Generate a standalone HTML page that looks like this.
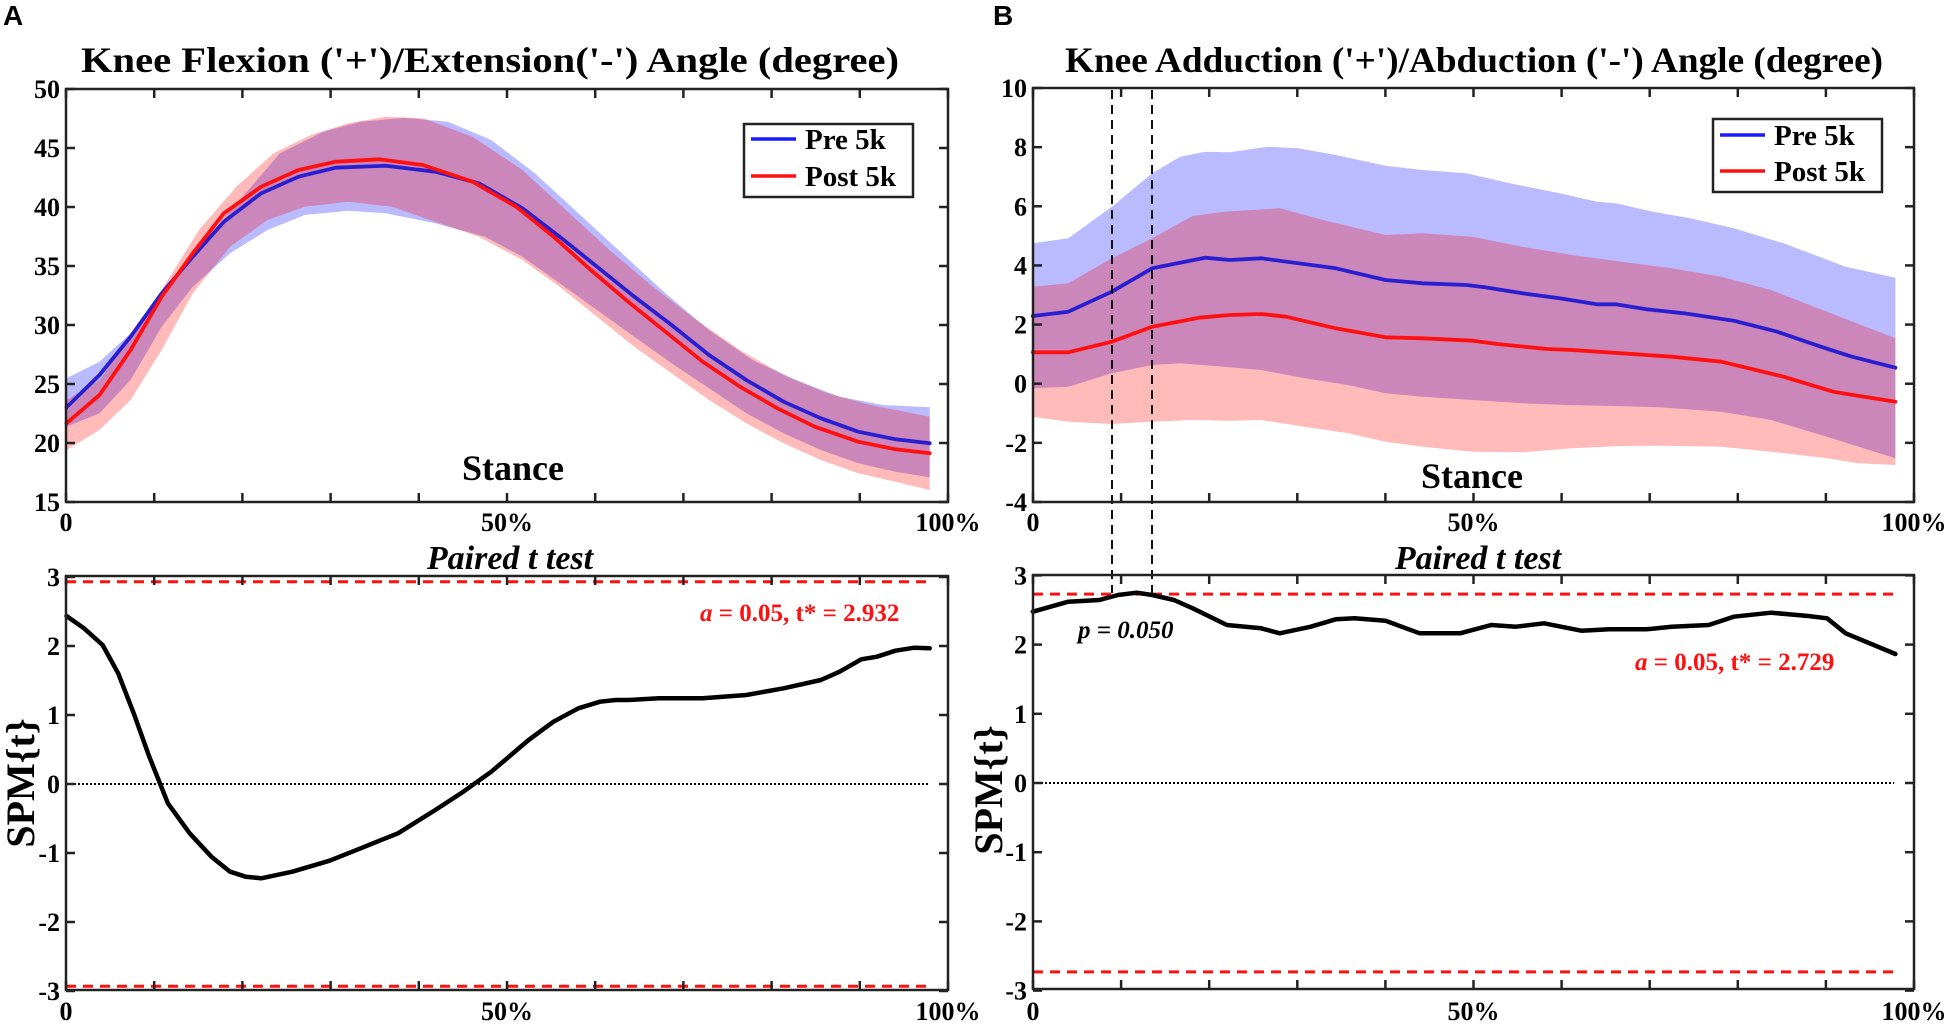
<!DOCTYPE html>
<html><head><meta charset="utf-8"><style>
html,body{margin:0;padding:0;background:#fff;}
svg{display:block;font-family:"Liberation Serif",serif;font-weight:bold;}
</style></head><body>
<svg id="s" width="1950" height="1025" viewBox="0 0 1950 1025" xmlns="http://www.w3.org/2000/svg">
<text x="3" y="25" font-family="Liberation Sans, sans-serif" font-size="28" font-weight="bold">A</text>
<text x="993" y="25" font-family="Liberation Sans, sans-serif" font-size="28" font-weight="bold">B</text>
<text x="490" y="72" font-size="36" text-anchor="middle" textLength="818" lengthAdjust="spacingAndGlyphs">Knee Flexion ('+')/Extension('-') Angle (degree)</text>
<text x="1474" y="72" font-size="36" text-anchor="middle" textLength="818" lengthAdjust="spacingAndGlyphs">Knee Adduction ('+')/Abduction ('-') Angle (degree)</text>
<g id="g"></g>
</svg>
<script>
const NS="http://www.w3.org/2000/svg",G=document.getElementById('g');
function el(t,a,txt){const e=document.createElementNS(NS,t);for(const k in a)e.setAttribute(k,a[k]);if(txt!==undefined)e.textContent=txt;G.appendChild(e);return e;}
function mapA(p){return p.map(q=>[q[0]/1.608,q[1]/3]);}
function mapB(p){return p.map(q=>[975+q[0]/1.608,q[1]/3]);}
function mapA2(p){return p.map(q=>[q[0]/1.608,520+q[1]/3]);}
function mapB2(p){return p.map(q=>[975+q[0]/1.608,520+q[1]/3]);}
function pts(p){return p.map(q=>q[0].toFixed(1)+','+q[1].toFixed(1)).join(' ');}
function band(u,l,fill){el('polygon',{points:pts(u.concat(l.slice().reverse())),fill:fill,'fill-opacity':0.27});}
function line(p,c,w){el('polyline',{points:pts(p),fill:'none',stroke:c,'stroke-width':w,'stroke-linejoin':'round','stroke-linecap':'round'});}
band(mapA([[107,1135],[160,1085],[210,1000],[270,860],[330,720],[390,590],[450,460],[520,395],[580,365],[650,353],[720,365],[790,420],[860,520],[930,640],[1000,760],[1070,880],[1140,990],[1210,1080],[1280,1140],[1350,1190],[1420,1215],[1495,1222]]),
 mapA([[107,1280],[160,1240],[210,1140],[260,980],[310,860],[370,760],[430,690],[490,645],[560,632],[620,640],[700,670],[780,710],[840,770],[900,850],[960,930],[1020,1010],[1080,1090],[1140,1165],[1200,1240],[1260,1300],[1320,1350],[1380,1390],[1440,1415],[1495,1432]]),'#0000ff');
band(mapA([[107,1200],[160,1140],[210,1010],[260,870],[320,690],[380,560],[440,460],[500,405],[560,370],[620,350],[680,355],[760,410],[840,510],[910,630],[980,750],[1050,860],[1120,960],[1190,1050],[1260,1125],[1330,1180],[1400,1215],[1495,1250]]),
 mapA([[107,1350],[160,1290],[210,1200],[260,1050],[310,880],[370,740],[430,660],[490,620],[560,605],[630,620],[700,665],[770,710],[840,780],[900,860],[960,950],[1020,1040],[1080,1120],[1140,1200],[1200,1270],[1260,1330],[1320,1380],[1380,1420],[1440,1445],[1495,1470]]),'#ff0000');
line(mapA([[107,1222],[160,1125],[210,1010],[260,880],[310,770],[360,665],[420,580],[480,530],[540,503],[620,497],[700,515],[770,550],[840,625],[900,710],[960,800],[1020,890],[1080,975],[1140,1065],[1200,1140],[1260,1205],[1320,1255],[1380,1295],[1440,1318],[1495,1330]]),'#2a1fd0',3.8);
line(mapA([[107,1270],[160,1185],[210,1050],[260,890],[310,760],[360,640],[420,560],[480,510],[540,485],[610,478],[680,495],[760,545],[830,620],[890,710],[950,810],[1010,905],[1070,995],[1130,1085],[1190,1160],[1250,1225],[1310,1280],[1380,1325],[1440,1348],[1495,1360]]),'#ff1010',3.8);
band(mapB([[93,730],[150,715],[220,620],[285,520],[330,470],[370,455],[410,457],[470,440],[520,445],[580,465],[660,497],[720,510],[790,520],[860,550],[940,580],[1000,605],[1030,610],[1090,635],[1150,655],[1220,685],[1300,730],[1400,800],[1480,833]]),
 mapB([[93,1165],[150,1160],[220,1120],[285,1095],[330,1090],[400,1100],[460,1110],[530,1135],[600,1155],[660,1180],[720,1190],[800,1200],[880,1210],[950,1215],[1030,1218],[1100,1222],[1200,1235],[1280,1260],[1370,1310],[1480,1375]]),'#0000ff');
band(mapB([[93,860],[150,850],[220,775],[285,715],[350,648],[400,635],[490,625],[560,660],[660,705],[720,700],[800,710],[880,740],[960,765],[1040,785],[1120,805],[1200,830],[1280,870],[1370,935],[1480,1015]]),
 mapB([[93,1250],[150,1265],[220,1272],[285,1265],[350,1260],[410,1262],[460,1260],[530,1280],[600,1300],[660,1325],[720,1340],[800,1355],[880,1357],[960,1345],[1040,1338],[1110,1337],[1200,1340],[1280,1355],[1370,1375],[1420,1390],[1480,1395]]),'#ff0000');
line(mapB([[93,948],[150,935],[220,875],[285,805],[370,773],[410,780],[460,775],[580,805],[660,840],[720,850],[790,855],[820,862],[880,880],[940,895],[1000,913],[1030,913],[1080,928],[1140,940],[1220,962],[1290,995],[1360,1040],[1410,1070],[1480,1103]]),'#2a1fd0',3.8);
line(mapB([[93,1057],[150,1057],[220,1025],[285,980],[360,953],[410,945],[460,942],[500,950],[580,985],[660,1012],[720,1015],[800,1022],[840,1032],[920,1047],[960,1050],[1040,1060],[1120,1070],[1200,1085],[1300,1130],[1380,1175],[1480,1205]]),'#ff1010',3.8);
el('line',{x1:1112,y1:90,x2:1112,y2:593,stroke:'#111','stroke-width':2,'stroke-dasharray':'9,6'});
el('line',{x1:1152,y1:90,x2:1152,y2:593,stroke:'#111','stroke-width':2,'stroke-dasharray':'9,6'});
[[66,948,784,69,2.932],[1033,1914,783,69.2,2.729]].forEach(b=>{
 const [l,r,z,k,t]=b;
 el('line',{x1:l,y1:z,x2:r-20,y2:z,stroke:'#000','stroke-width':2,'stroke-dasharray':'2,2'});
 el('line',{x1:l,y1:z-k*t,x2:r-20,y2:z-k*t,stroke:'#ff1010','stroke-width':3,'stroke-dasharray':'10,7'});
 el('line',{x1:l,y1:z+k*t,x2:r-20,y2:z+k*t,stroke:'#ff1010','stroke-width':3,'stroke-dasharray':'10,7'});
});
line(mapA2([[107,288],[135,325],[165,375],[190,460],[215,580],[240,710],[270,850],[305,940],[340,1010],[370,1055],[395,1070],[420,1075],[470,1055],[530,1022],[580,985],[640,940],[700,870],[745,815],[790,755],[850,660],[890,605],[930,565],[965,545],[990,540],[1010,540],[1060,535],[1130,535],[1200,525],[1260,505],[1320,480],[1350,455],[1385,418],[1410,410],[1440,392],[1470,383],[1495,385]]),'#000',4.5);
line(mapB2([[93,275],[150,245],[200,240],[230,225],[260,218],[285,225],[320,240],[350,265],[405,315],[460,325],[490,340],[540,320],[580,298],[610,295],[660,302],[715,340],[780,340],[830,315],[870,320],[915,310],[975,332],[1020,328],[1080,328],[1120,320],[1180,315],[1220,290],[1280,278],[1340,288],[1370,295],[1400,340],[1480,402]]),'#000',4.5);
function axes(l,r,t,b,yt,xlbY){
 el('rect',{x:l,y:t,width:r-l,height:b-t,fill:'none',stroke:'#222','stroke-width':2.5});
 for(let i=0;i<=10;i++){const x=l+(r-l)*i/10;el('line',{x1:x,y1:b,x2:x,y2:b-9,stroke:'#222','stroke-width':2.5});el('line',{x1:x,y1:t,x2:x,y2:t+9,stroke:'#222','stroke-width':2.5});}
 yt.forEach(q=>{el('line',{x1:l,y1:q[1],x2:l+9,y2:q[1],stroke:'#222','stroke-width':2.5});el('line',{x1:r,y1:q[1],x2:r-9,y2:q[1],stroke:'#222','stroke-width':2.5});
  el('text',{x:l-6,y:q[1]+9,'font-size':26,'text-anchor':'end'},q[0]);});
 el('text',{x:l,y:xlbY,'font-size':26,'text-anchor':'middle'},'0');
 el('text',{x:(l+r)/2,y:xlbY,'font-size':26,'text-anchor':'middle'},'50%');
 el('text',{x:r,y:xlbY,'font-size':26,'text-anchor':'middle'},'100%');
}
let ya=[];for(let v=15;v<=50;v+=5)ya.push([v,502-(v-15)*413/35]);
axes(66,948,89,502,ya,531);
let yb=[];for(let v=-4;v<=10;v+=2)yb.push([v,502-(v+4)*414/14]);
axes(1033,1914,88,502,yb,531);
let yc=[];for(let v=-3;v<=3;v++)yc.push([v,784-69*v]);
axes(66,948,576,990,yc,1020);
let yd=[];for(let v=-3;v<=3;v++)yd.push([v,783-69.2*v]);
axes(1033,1914,575,989,yd,1020);
function legend(x,y,w,h,lx1,lx2,y1,y2,tx){
 el('rect',{x:x,y:y,width:w,height:h,fill:'#fff',stroke:'#222','stroke-width':2.5});
 el('line',{x1:lx1,y1:y1,x2:lx2,y2:y1,stroke:'#1a1aff','stroke-width':3.5});
 el('line',{x1:lx1,y1:y2,x2:lx2,y2:y2,stroke:'#ff1010','stroke-width':3.5});
 el('text',{x:tx,y:y1+10,'font-size':29},'Pre 5k');
 el('text',{x:tx,y:y2+10,'font-size':29},'Post 5k');
}
legend(744,124,169,73,751,796,139,176,805);
legend(1713,119,169,73,1720,1765,135,171,1774);
el('text',{x:513,y:480,'font-size':36,'text-anchor':'middle'},'Stance');
el('text',{x:1472,y:488,'font-size':36,'text-anchor':'middle'},'Stance');
el('text',{x:510,y:569,'font-size':34,'font-style':'italic','text-anchor':'middle'},'Paired t test');
el('text',{x:1478,y:569,'font-size':34,'font-style':'italic','text-anchor':'middle'},'Paired t test');
el('text',{x:20,y:783,'font-size':40,'text-anchor':'middle',transform:'rotate(-90 20 783) translate(0 14)'},'SPM{t}');
el('text',{x:988,y:790,'font-size':40,'text-anchor':'middle',transform:'rotate(-90 988 790) translate(0 14)'},'SPM{t}');
function ann(x,y,val){const t=el('text',{x:x,y:y,'font-size':25,fill:'#ff1010'});const a=document.createElementNS(NS,'tspan');a.setAttribute('font-style','italic');a.textContent='a';t.appendChild(a);t.appendChild(document.createTextNode(' = 0.05, t* = '+val));}
ann(700,621,'2.932');
ann(1635,670,'2.729');
el('text',{x:1078,y:638,'font-size':25,'font-style':'italic'},'p = 0.050');
</script>
</body></html>
